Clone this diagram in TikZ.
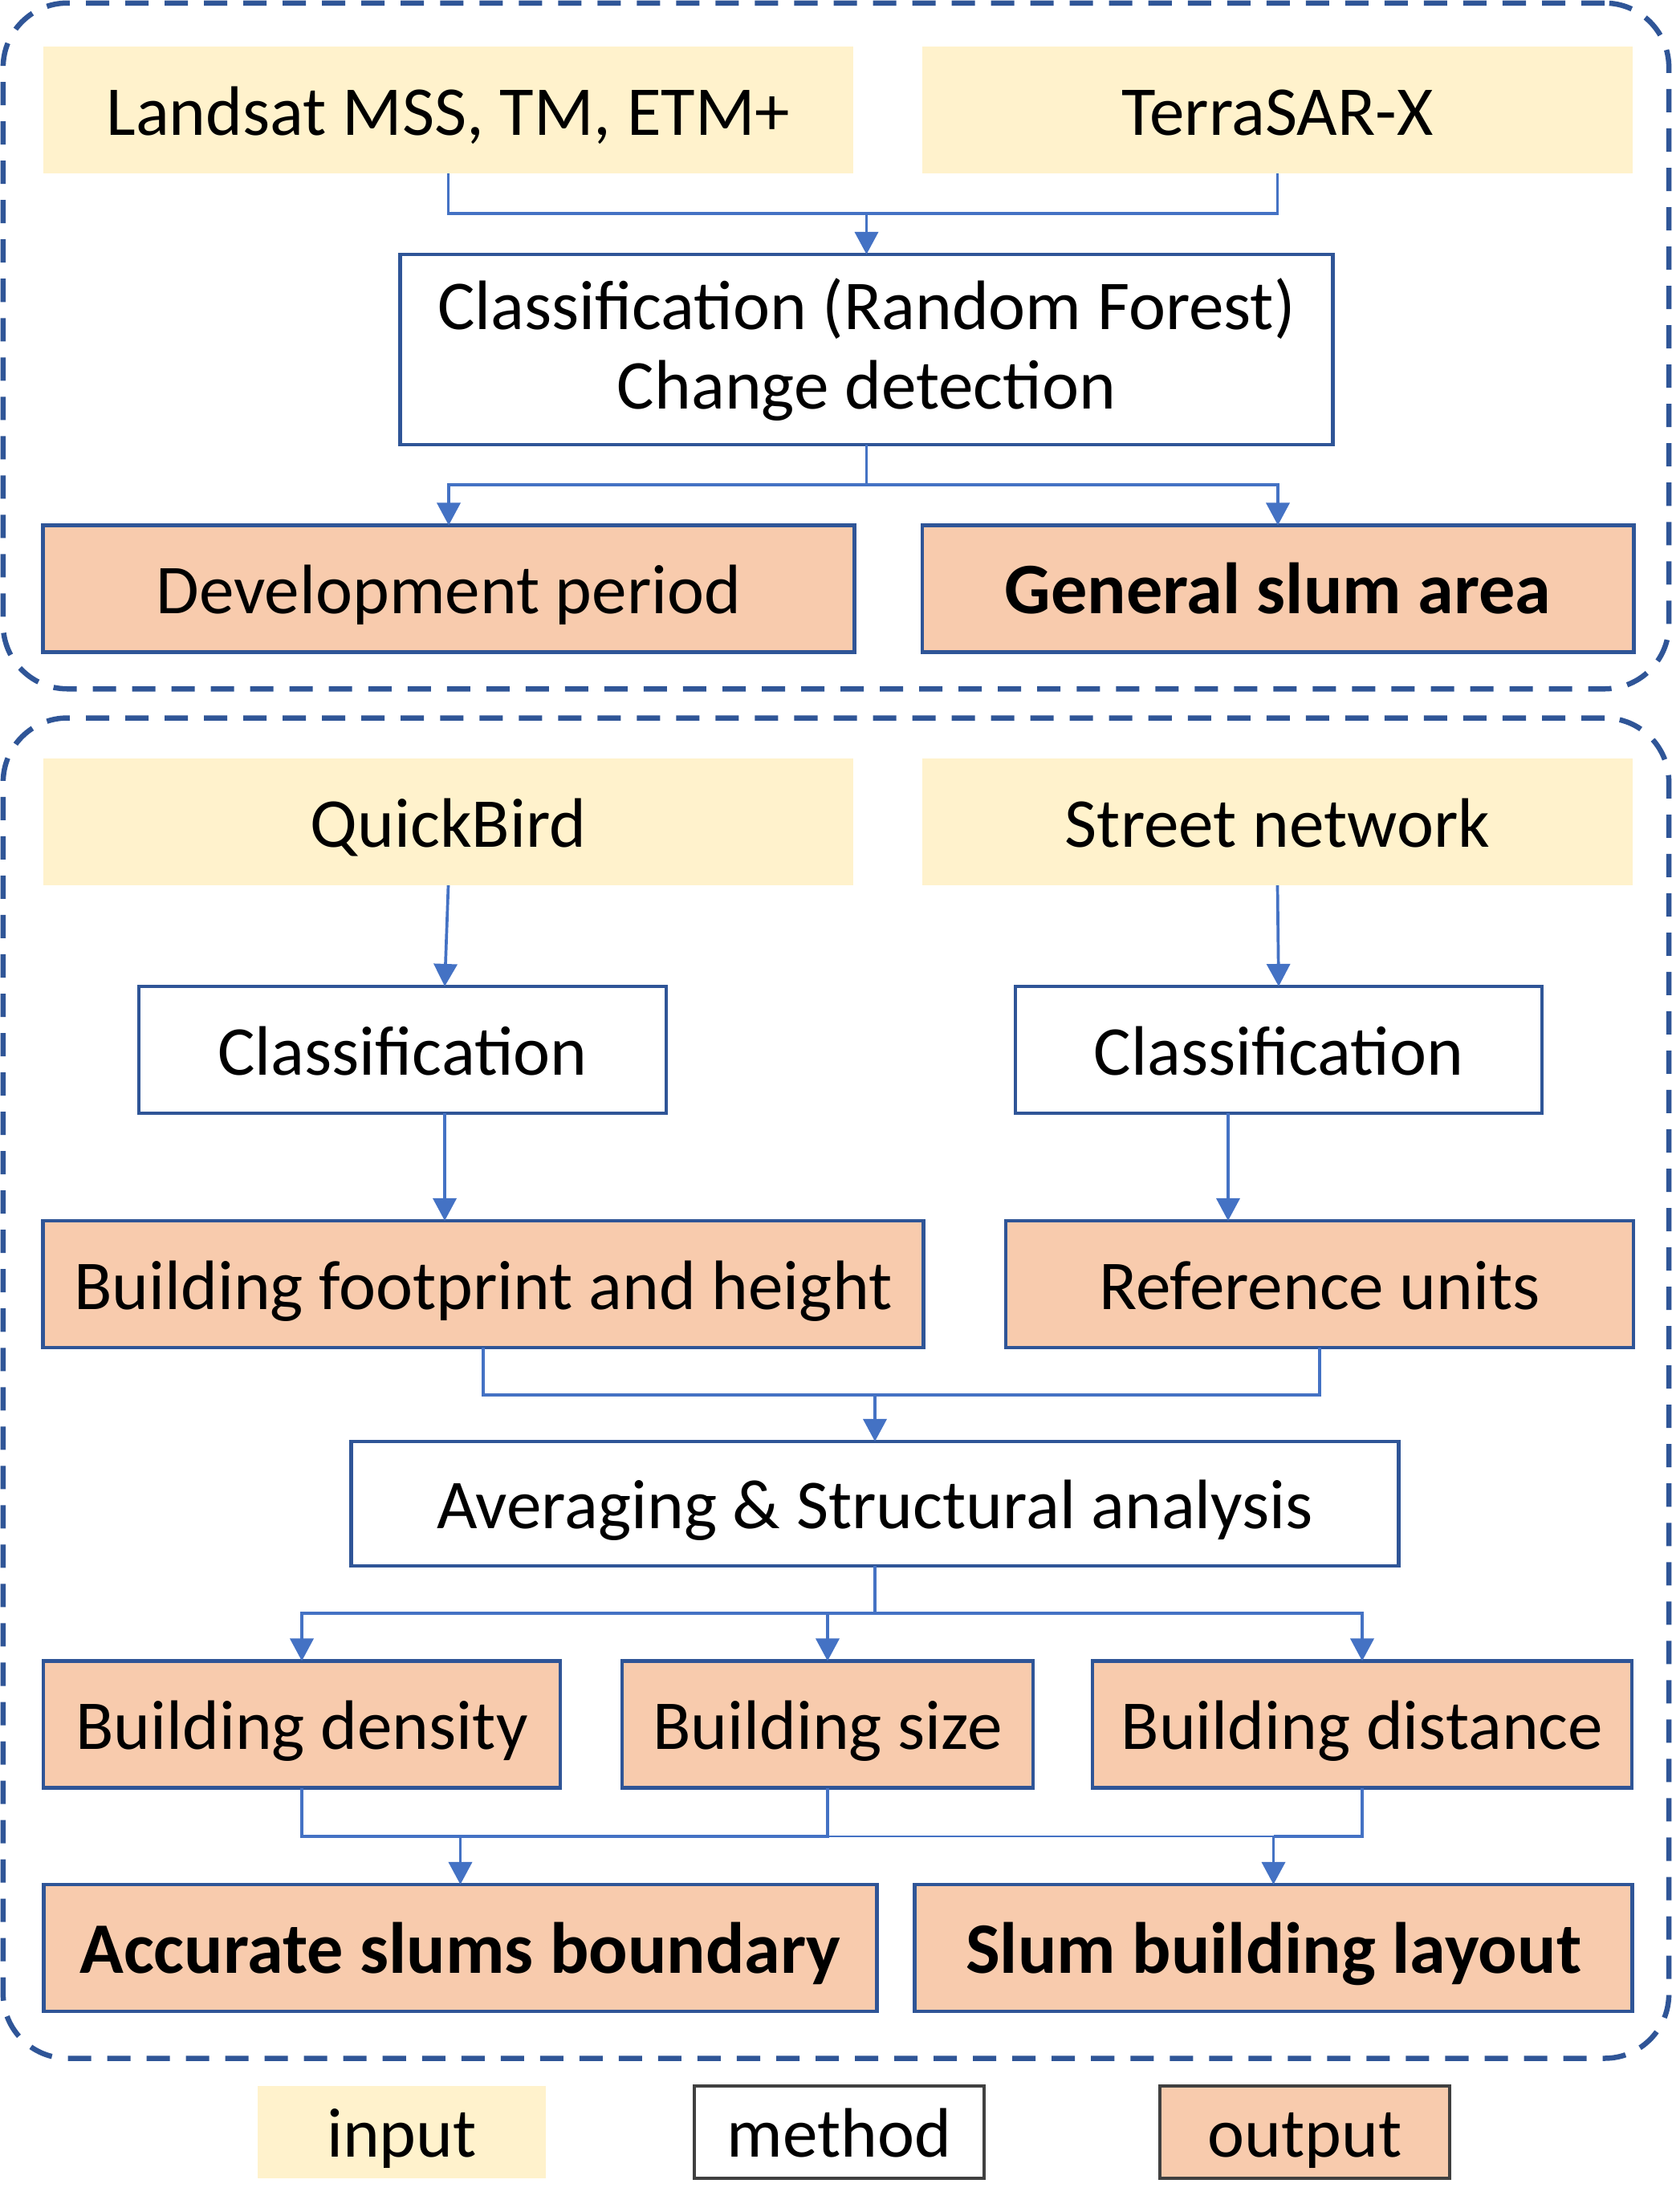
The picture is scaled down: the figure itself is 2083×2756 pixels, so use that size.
\documentclass[tikz,border=0pt]{standalone}
\usepackage{fontspec}
\setmainfont{Carlito}
\usetikzlibrary{arrows.meta}
\definecolor{inputc}{HTML}{FFF2CC}
\definecolor{outputc}{HTML}{F8CBAD}
\definecolor{bordc}{HTML}{2F5597}
\definecolor{linec}{HTML}{4472C4}
\definecolor{legc}{HTML}{404040}
\begin{document}
\begin{tikzpicture}[x=0.01cm,y=-0.01cm,
 base/.style={rectangle, inner sep=0pt, outer sep=0pt, align=center, font=\fontsize{24.8}{28}\selectfont, text=black},
 one/.style={text height=0.62cm, text depth=0pt},
 inbox/.style={base, one, fill=inputc},
 methbox/.style={base, draw=bordc, line width=0.045cm, fill=white},
 outbox/.style={base, one, draw=bordc, line width=0.045cm, fill=outputc},
 boldtxt/.style={font=\fontsize{25.7}{30}\selectfont\bfseries},
 legbox/.style={base, one, draw=legc, line width=0.045cm},
 conn/.style={draw=linec, line width=0.037cm},
 thinconn/.style={draw=linec, line width=0.02cm},
 arr/.style={conn, -{Triangle[length=0.28cm,width=0.29cm]}},
 group/.style={rectangle, inner sep=0pt, outer sep=0pt, draw=bordc, line width=0.065cm, dash pattern=on 0.29cm off 0.2cm, rounded corners=0.8cm},
 bh/.style={minimum height=1.58cm},
]
\useasboundingbox (0,0) rectangle (2083,2756);
% group frames
\node[group, minimum width=20.74cm, minimum height=8.54cm] (g1) at (1041.5,431) {};
\node[group, minimum width=20.74cm, minimum height=16.69cm] (g2) at (1041.5,1729.5) {};
% top part
\node[inbox, bh, minimum width=10.09cm] (landsat) at (558.5,137) {Landsat MSS, TM, ETM+};
\node[inbox, bh, minimum width=8.85cm] (terra) at (1591.5,137) {TerraSAR-X};
\node[methbox, minimum width=11.61cm, minimum height=2.37cm] (rf) at (1079.5,435.5) {Classification (Random Forest)\\Change detection};
\node[outbox, bh, minimum width=10.10cm] (dev) at (559,733.5) {Development period};
\node[outbox, bh, minimum width=8.86cm, boldtxt] (gen) at (1592,733.5) {General slum area};
% bottom part
\node[inbox, bh, minimum width=10.09cm] (qb) at (558.5,1024) {QuickBird};
\node[inbox, bh, minimum width=8.85cm] (sn) at (1591.5,1024) {Street network};
\node[methbox, one, bh, minimum width=6.57cm] (cls1) at (501.5,1308) {Classification};
\node[methbox, one, bh, minimum width=6.56cm] (cls2) at (1593,1308) {Classification};
\node[outbox, bh, minimum width=10.96cm] (bf) at (602,1600) {Building footprint and height};
\node[outbox, bh, minimum width=7.82cm] (ru) at (1644,1600) {Reference units};
\node[methbox, one, minimum width=13.04cm, minimum height=1.55cm] (avg) at (1090,1873.5) {Averaging \& Structural analysis};
\node[outbox, bh, minimum width=6.44cm] (dens) at (376,2148.5) {Building density};
\node[outbox, bh, minimum width=5.12cm] (size) at (1031,2148.5) {Building size};
\node[outbox, bh, minimum width=6.72cm] (dist) at (1697,2148.5) {Building distance};
\node[outbox, bh, minimum width=10.37cm, boldtxt] (acc) at (573.5,2427) {Accurate slums boundary};
\node[outbox, bh, minimum width=8.93cm, boldtxt] (lay) at (1586.5,2427) {Slum building layout};
% legend
\node[inbox, minimum width=3.59cm, minimum height=1.15cm] (lin) at (500.5,2656.5) {input};
\node[legbox, fill=white, minimum width=3.61cm, minimum height=1.15cm] (lme) at (1045.5,2656.5) {method};
\node[legbox, fill=outputc, minimum width=3.61cm, minimum height=1.15cm] (lou) at (1625.5,2656.5) {output};
% connectors top
\coordinate (j1) at (1079.5,266);
\draw[conn] (landsat.south) |- (j1);
\draw[conn] (terra.south) |- (j1);
\draw[arr] (j1) -- (rf.north);
\coordinate (j2) at (1079.5,604);
\draw[conn] (rf.south) -- (j2);
\draw[arr] (j2) -| (dev.north);
\draw[arr] (j2) -| (gen.north);
% connectors bottom
\coordinate (c1t) at ([xshift=0.525cm]cls1.north);
\draw[arr] (qb.south) -- (c1t);
\draw[arr] (sn.south) -- (cls2.north);
\coordinate (c1b) at ([xshift=0.525cm]cls1.south);
\draw[arr] (c1b) -- (c1b |- bf.north);
\coordinate (c2b) at ([xshift=-0.63cm]cls2.south);
\draw[arr] (c2b) -- (c2b |- ru.north);
\coordinate (j3) at (1090,1738);
\draw[conn] (bf.south) |- (j3);
\draw[conn] (ru.south) |- (j3);
\draw[arr] (j3) -- (avg.north);
\coordinate (j4) at (1090,2010);
\draw[conn] (avg.south) -- (j4);
\draw[arr] (j4) -| (dens.north);
\draw[arr] (j4) -| (size.north);
\draw[arr] (j4) -| (dist.north);
\coordinate (j5) at (573.5,2288);
\draw[conn] (dens.south) |- (j5);
\draw[conn] (size.south) |- (j5);
\draw[arr] (j5) -- (acc.north);
\coordinate (j6) at (1586.5,2288);
\draw[thinconn] (size.south |- j6) -- (j6);
\draw[conn] (dist.south) |- (j6);
\draw[arr] (j6) -- (lay.north);
\end{tikzpicture}
\end{document}
